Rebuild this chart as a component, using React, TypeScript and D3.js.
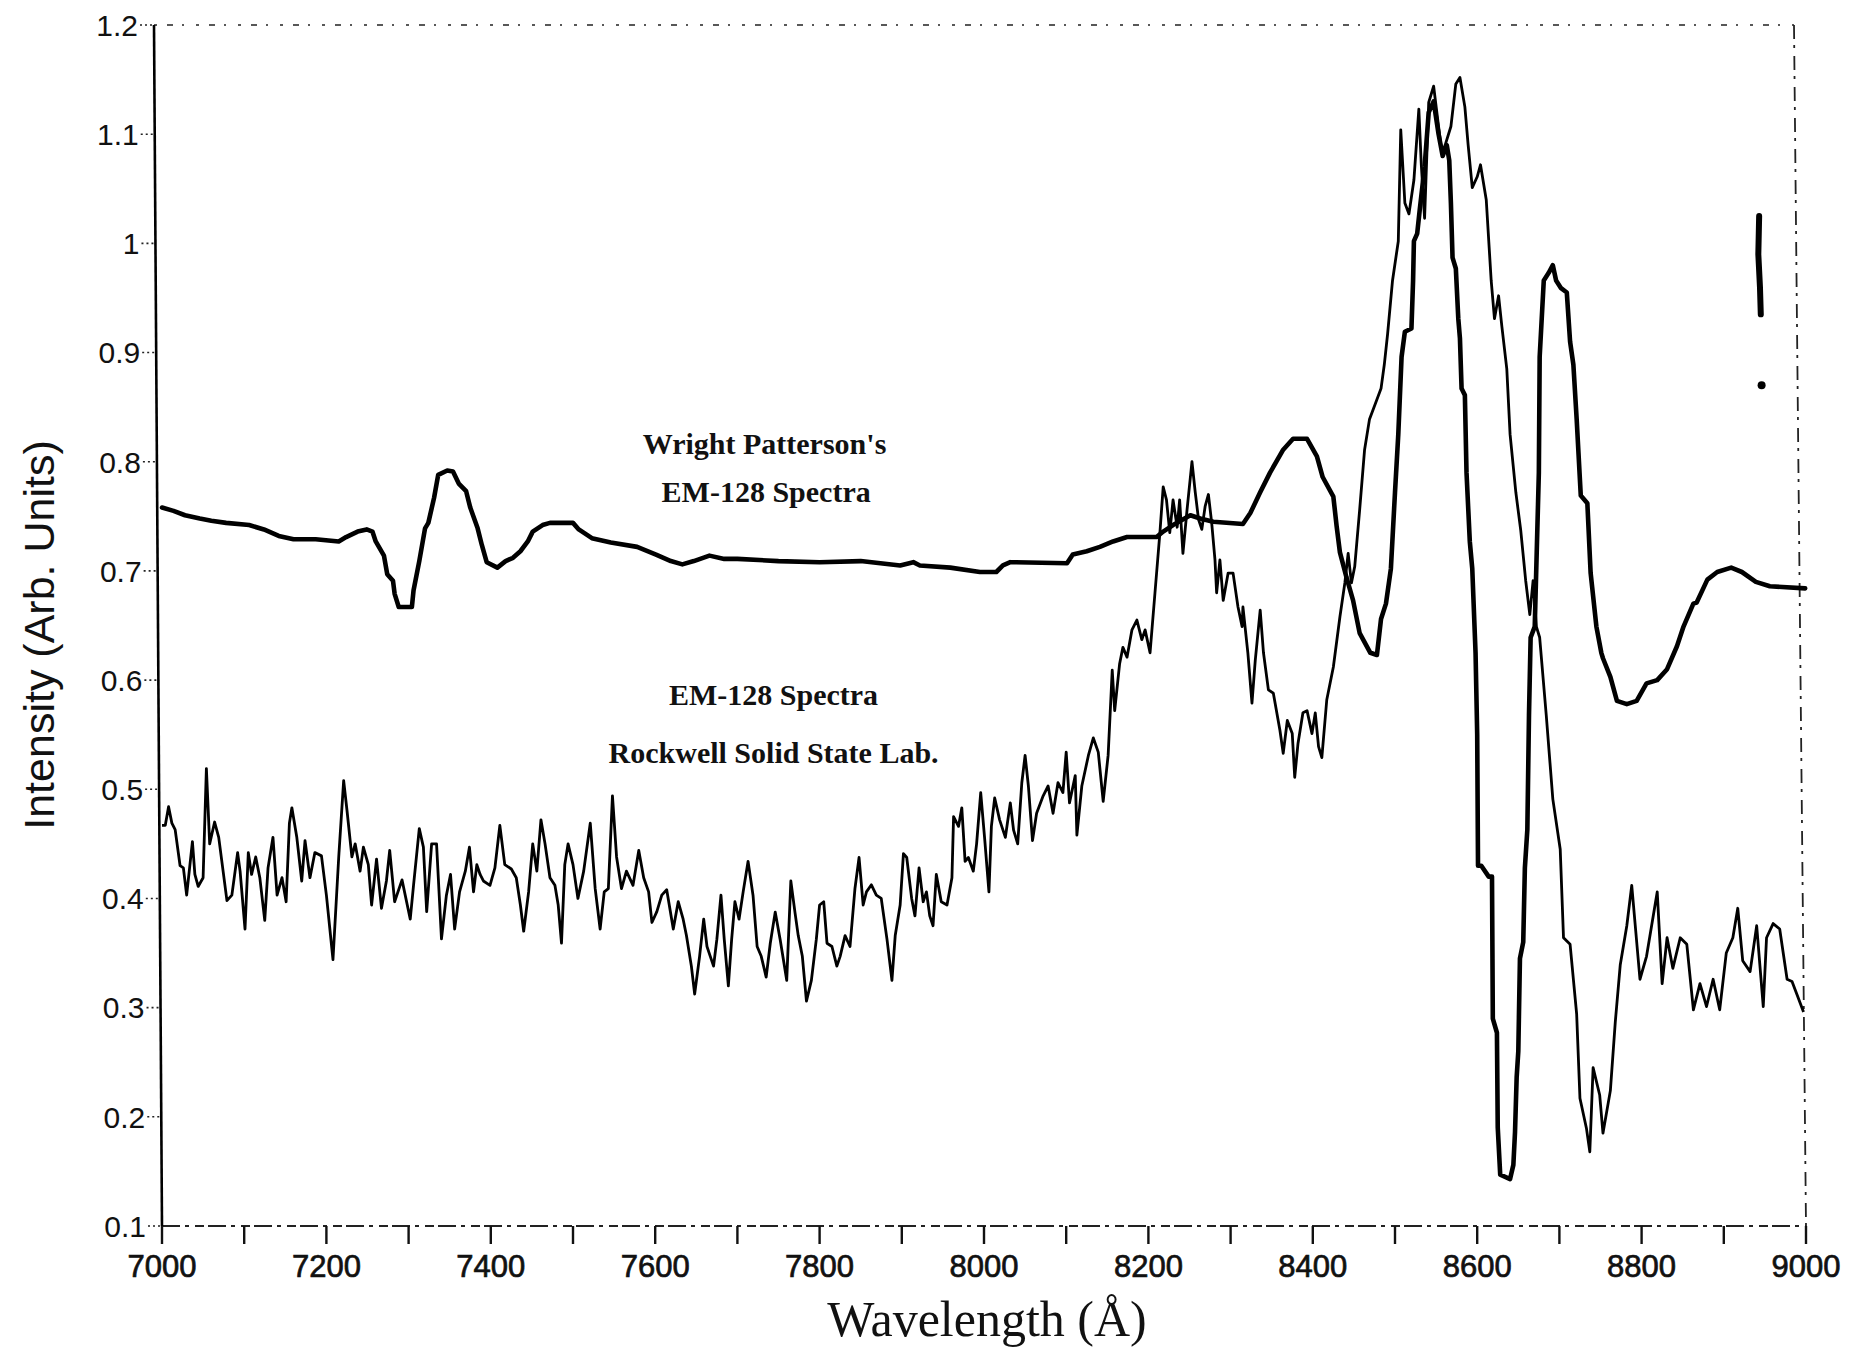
import React from "react";
import * as d3 from "d3";

// ---------- data ----------
const xTickValues = [7000, 7100, 7200, 7300, 7400, 7500, 7600, 7700, 7800, 7900, 8000, 8100, 8200, 8300, 8400, 8500, 8600, 8700, 8800, 8900, 9000];
const xTickLabels = [7000, 7200, 7400, 7600, 7800, 8000, 8200, 8400, 8600, 8800, 9000];
const yTickValues = [0.1, 0.2, 0.3, 0.4, 0.5, 0.6, 0.7, 0.8, 0.9, 1.0, 1.1, 1.2];

// Wright Patterson's EM-128 spectrum (thick line): [wavelength, intensity]
const wrightPatterson: [number, number][] = [
  [7000, 0.758], [7014, 0.755], [7028, 0.751], [7046, 0.748], [7060, 0.746], [7078, 0.744], [7106, 0.742],
  [7124, 0.738], [7142, 0.732], [7160, 0.729], [7187, 0.729], [7215, 0.727], [7224, 0.731], [7238, 0.736],
  [7249, 0.738], [7256, 0.736], [7260, 0.727], [7270, 0.714], [7274, 0.697], [7281, 0.691], [7283, 0.679],
  [7288, 0.667], [7304, 0.667], [7306, 0.682], [7313, 0.709], [7320, 0.739], [7324, 0.744], [7331, 0.767],
  [7336, 0.788], [7347, 0.792], [7354, 0.791], [7361, 0.78], [7370, 0.773], [7375, 0.758], [7384, 0.739],
  [7389, 0.724], [7395, 0.708], [7408, 0.703], [7418, 0.709], [7427, 0.712], [7436, 0.718], [7445, 0.727],
  [7451, 0.736], [7463, 0.742], [7472, 0.744], [7500, 0.744], [7507, 0.738], [7523, 0.73], [7546, 0.726],
  [7578, 0.722], [7601, 0.715], [7619, 0.709], [7633, 0.706], [7647, 0.709], [7666, 0.714], [7684, 0.711],
  [7700, 0.711], [7750, 0.709], [7800, 0.708], [7850, 0.709], [7898, 0.705], [7914, 0.708], [7922, 0.705],
  [7959, 0.703], [7995, 0.699], [8015, 0.699], [8023, 0.705], [8032, 0.708], [8101, 0.707], [8108, 0.715],
  [8125, 0.718], [8141, 0.722], [8157, 0.727], [8174, 0.731], [8210, 0.731], [8218, 0.736], [8230, 0.742],
  [8251, 0.751], [8263, 0.748], [8279, 0.745], [8315, 0.743], [8324, 0.753], [8336, 0.772], [8348, 0.79],
  [8364, 0.811], [8376, 0.821], [8393, 0.821], [8405, 0.805], [8412, 0.786], [8425, 0.768], [8429, 0.741],
  [8433, 0.717], [8441, 0.694], [8449, 0.673], [8457, 0.643], [8470, 0.625], [8478, 0.623], [8483, 0.656],
  [8489, 0.67], [8495, 0.702], [8500, 0.772], [8504, 0.825], [8508, 0.896], [8512, 0.919], [8520, 0.922],
  [8522, 0.966], [8523, 1.002], [8527, 1.009], [8530, 1.03], [8536, 1.07], [8541, 1.12], [8547, 1.13],
  [8553, 1.1], [8558, 1.08], [8563, 1.09], [8566, 1.076], [8568, 1.037], [8570, 0.987], [8574, 0.977],
  [8577, 0.931], [8579, 0.913], [8581, 0.867], [8585, 0.861], [8587, 0.79], [8591, 0.727], [8594, 0.702],
  [8598, 0.625], [8600, 0.55], [8601, 0.43], [8605, 0.43], [8614, 0.42], [8618, 0.42], [8619, 0.29],
  [8624, 0.277], [8625, 0.19], [8628, 0.147], [8640, 0.143], [8644, 0.156], [8646, 0.186], [8648, 0.236],
  [8650, 0.26], [8652, 0.345], [8656, 0.36], [8658, 0.428], [8661, 0.463], [8663, 0.568], [8665, 0.639],
  [8670, 0.649], [8675, 0.79], [8676, 0.896], [8681, 0.966], [8687, 0.973], [8692, 0.98], [8696, 0.966],
  [8702, 0.959], [8709, 0.955], [8713, 0.91], [8717, 0.889], [8721, 0.839], [8726, 0.769], [8734, 0.762],
  [8738, 0.698], [8745, 0.649], [8751, 0.625], [8753, 0.62], [8762, 0.603], [8770, 0.581], [8782, 0.578],
  [8794, 0.581], [8806, 0.597], [8819, 0.6], [8831, 0.61], [8843, 0.631], [8851, 0.649], [8863, 0.67],
  [8867, 0.671], [8880, 0.692], [8892, 0.699], [8909, 0.703], [8922, 0.699], [8939, 0.69], [8956, 0.686],
  [8999, 0.684],
];

// Rockwell Solid State Lab. EM-128 spectrum (thin noisy line)
const rockwell: [number, number][] = [
  [7000, 0.467], [7004, 0.467], [7008, 0.484], [7012, 0.469], [7016, 0.463], [7022, 0.43], [7026, 0.428],
  [7030, 0.403], [7034, 0.431], [7037, 0.452], [7040, 0.422], [7044, 0.411], [7050, 0.419], [7054, 0.519],
  [7058, 0.45], [7064, 0.47], [7069, 0.456], [7079, 0.398], [7085, 0.403], [7092, 0.442], [7095, 0.425],
  [7101, 0.372], [7105, 0.442], [7109, 0.422], [7114, 0.438], [7119, 0.419], [7125, 0.38], [7129, 0.428],
  [7135, 0.456], [7140, 0.403], [7146, 0.419], [7151, 0.397], [7155, 0.469], [7158, 0.483], [7164, 0.456],
  [7170, 0.416], [7174, 0.453], [7180, 0.419], [7186, 0.442], [7194, 0.439], [7200, 0.403], [7208, 0.344],
  [7215, 0.438], [7221, 0.508], [7225, 0.481], [7231, 0.438], [7235, 0.45], [7241, 0.425], [7245, 0.447],
  [7251, 0.431], [7255, 0.394], [7261, 0.436], [7267, 0.391], [7273, 0.416], [7277, 0.444], [7283, 0.397],
  [7292, 0.417], [7302, 0.381], [7306, 0.412], [7313, 0.464], [7318, 0.447], [7322, 0.388], [7328, 0.45],
  [7334, 0.45], [7340, 0.363], [7346, 0.403], [7351, 0.422], [7356, 0.372], [7362, 0.406], [7369, 0.425],
  [7374, 0.447], [7379, 0.406], [7383, 0.431], [7387, 0.422], [7391, 0.416], [7399, 0.412], [7405, 0.428],
  [7411, 0.467], [7417, 0.431], [7425, 0.427], [7431, 0.419], [7436, 0.394], [7440, 0.37], [7446, 0.406],
  [7451, 0.45], [7456, 0.425], [7461, 0.472], [7466, 0.45], [7472, 0.419], [7478, 0.412], [7482, 0.394],
  [7486, 0.359], [7490, 0.431], [7494, 0.45], [7500, 0.431], [7506, 0.4], [7513, 0.425], [7521, 0.469],
  [7527, 0.409], [7533, 0.372], [7538, 0.406], [7543, 0.409], [7548, 0.494], [7553, 0.438], [7559, 0.409],
  [7565, 0.425], [7573, 0.412], [7580, 0.444], [7586, 0.419], [7592, 0.406], [7596, 0.378], [7602, 0.388],
  [7608, 0.403], [7614, 0.408], [7622, 0.372], [7628, 0.397], [7634, 0.381], [7638, 0.366], [7644, 0.338],
  [7648, 0.3125], [7654, 0.347], [7659, 0.381], [7663, 0.356], [7667, 0.347], [7671, 0.338], [7675, 0.3625],
  [7680, 0.403], [7684, 0.3625], [7689, 0.32], [7693, 0.3625], [7697, 0.397], [7702, 0.381], [7707, 0.406],
  [7713, 0.434], [7719, 0.403], [7724, 0.356], [7729, 0.347], [7735, 0.328], [7740, 0.359], [7746, 0.3875],
  [7752, 0.3625], [7760, 0.325], [7765, 0.416], [7770, 0.3875], [7774, 0.366], [7779, 0.347], [7784, 0.306],
  [7790, 0.325], [7796, 0.3625], [7800, 0.394], [7805, 0.397], [7809, 0.359], [7815, 0.356], [7821, 0.338],
  [7825, 0.347], [7831, 0.366], [7837, 0.356], [7843, 0.409], [7848, 0.4375], [7853, 0.394], [7857, 0.406],
  [7863, 0.4125], [7869, 0.403], [7875, 0.4], [7882, 0.3625], [7888, 0.325], [7892, 0.366], [7898, 0.394],
  [7902, 0.441], [7906, 0.4375], [7912, 0.4], [7916, 0.384], [7921, 0.428], [7926, 0.397], [7930, 0.406],
  [7934, 0.384], [7938, 0.375], [7942, 0.422], [7948, 0.397], [7955, 0.394], [7961, 0.419], [7963, 0.475],
  [7969, 0.466], [7973, 0.483], [7977, 0.434], [7981, 0.4375], [7987, 0.425], [7991, 0.45], [7996, 0.497],
  [8001, 0.453], [8006, 0.406], [8009, 0.466], [8013, 0.492], [8019, 0.472], [8026, 0.456], [8032, 0.4875],
  [8036, 0.4625], [8041, 0.45], [8046, 0.506], [8050, 0.531], [8054, 0.503], [8059, 0.453], [8064, 0.478],
  [8072, 0.494], [8078, 0.503], [8084, 0.478], [8090, 0.506], [8096, 0.497], [8100, 0.534], [8104, 0.4875],
  [8111, 0.5125], [8113, 0.458], [8119, 0.503], [8127, 0.531], [8133, 0.547], [8139, 0.534], [8145, 0.489],
  [8151, 0.531], [8156, 0.609], [8159, 0.572], [8165, 0.615], [8169, 0.63], [8174, 0.621], [8180, 0.646],
  [8186, 0.655], [8192, 0.637], [8196, 0.646], [8202, 0.625], [8208, 0.68], [8214, 0.735], [8218, 0.777],
  [8222, 0.765], [8226, 0.735], [8230, 0.765], [8235, 0.74], [8238, 0.765], [8242, 0.716], [8247, 0.756],
  [8253, 0.8], [8257, 0.772], [8261, 0.747], [8265, 0.738], [8269, 0.759], [8273, 0.77], [8277, 0.744],
  [8281, 0.71], [8283, 0.68], [8287, 0.71], [8291, 0.673], [8297, 0.698], [8303, 0.698], [8309, 0.667],
  [8314, 0.649], [8315, 0.667], [8321, 0.625], [8326, 0.579], [8330, 0.618], [8336, 0.664], [8340, 0.625],
  [8346, 0.591], [8352, 0.588], [8360, 0.554], [8364, 0.533], [8369, 0.563], [8375, 0.551], [8378, 0.511],
  [8382, 0.542], [8388, 0.57], [8393, 0.572], [8399, 0.551], [8403, 0.57], [8407, 0.539], [8411, 0.529],
  [8417, 0.582], [8425, 0.612], [8433, 0.658], [8439, 0.689], [8443, 0.716], [8447, 0.689], [8451, 0.704],
  [8457, 0.756], [8463, 0.811], [8469, 0.839], [8478, 0.857], [8483, 0.867], [8487, 0.889], [8491, 0.917],
  [8497, 0.966], [8504, 1.002], [8507, 1.104], [8512, 1.037], [8517, 1.027], [8523, 1.058], [8529, 1.123],
  [8532, 1.072], [8536, 1.023], [8541, 1.129], [8547, 1.144], [8553, 1.107], [8557, 1.083], [8561, 1.09],
  [8568, 1.107], [8574, 1.146], [8579, 1.152], [8585, 1.125], [8589, 1.09], [8594, 1.051], [8600, 1.061],
  [8604, 1.072], [8611, 1.04], [8617, 0.966], [8621, 0.931], [8626, 0.952], [8630, 0.924], [8636, 0.885],
  [8640, 0.825], [8647, 0.772], [8653, 0.737], [8659, 0.691], [8664, 0.66], [8668, 0.691], [8672, 0.649],
  [8676, 0.639], [8684, 0.568], [8692, 0.491], [8701, 0.445], [8705, 0.364], [8713, 0.358], [8721, 0.294],
  [8725, 0.217], [8733, 0.189], [8737, 0.168], [8741, 0.245], [8749, 0.22], [8753, 0.185], [8762, 0.224],
  [8768, 0.287], [8774, 0.339], [8782, 0.375], [8788, 0.412], [8798, 0.326], [8806, 0.347], [8819, 0.406],
  [8825, 0.322], [8831, 0.364], [8838, 0.336], [8847, 0.364], [8855, 0.358], [8863, 0.298], [8871, 0.322],
  [8879, 0.301], [8887, 0.326], [8895, 0.298], [8903, 0.35], [8911, 0.364], [8917, 0.391], [8923, 0.343],
  [8932, 0.333], [8940, 0.375], [8948, 0.301], [8952, 0.364], [8960, 0.377], [8968, 0.372], [8977, 0.326],
  [8983, 0.324], [8989, 0.312], [8997, 0.296],
];

// small scan smudge near the upper right of the plot
const smudge: [number, number][] = [[8943, 1.025], [8942, 0.99], [8944, 0.96], [8945, 0.935]];
const smudgeDot: [number, number][] = [[8946, 0.87]];

const annotations = [
  { text: "Wright Patterson's", x: 7733, y: 0.807 },
  { text: "EM-128 Spectra", x: 7735, y: 0.763 },
  { text: "EM-128 Spectra", x: 7744, y: 0.577 },
  { text: "Rockwell Solid State Lab.", x: 7744, y: 0.524 },
];

// ---------- chart ----------
const W = 1851;
const H = 1352;

export default function App() {
  const x = d3.scaleLinear().domain([7000, 9000]).range([162, 1806]);
  const y = d3.scaleLinear().domain([0.1, 1.2]).range([1226, 25]);

  const line = d3
    .line<[number, number]>()
    .x((d) => x(d[0]))
    .y((d) => y(d[1]));

  const x0 = x(7000);
  const x1 = x(9000);
  const yTop = y(1.2);
  const yBot = y(0.1);

  const tickFont = "'Liberation Sans', Arial, Helvetica, sans-serif";
  const serif = "'Liberation Serif', 'Times New Roman', Times, serif";

  return (
    <svg
      width={W}
      height={H}
      viewBox={`0 0 ${W} ${H}`}
      style={{ position: "absolute", left: 0, top: 0, background: "#fff" }}
    >
      <rect x={0} y={0} width={W} height={H} fill="#fff" />

      {/* frame: top dotted, right dashed, bottom dashed */}
      <line x1={x0 - 8} y1={yTop} x2={x1 - 12} y2={yTop} stroke="#222" strokeWidth={1.6} strokeDasharray="3 10 6 9 2 12" />
      <line x1={x1 - 12} y1={yTop} x2={x1} y2={yBot} stroke="#222" strokeWidth={1.8} strokeDasharray="14 6 3 8" />
      <line x1={x0} y1={yBot} x2={x1} y2={yBot} stroke="#222" strokeWidth={2} strokeDasharray="18 5 4 6 9 4" />
      {/* left axis (solid, scan slightly tilted) */}
      <line x1={x0 - 8} y1={yTop} x2={x0} y2={yBot} stroke="#000" strokeWidth={2.6} />

      {/* y ticks */}
      {yTickValues.map((v) => {
        const yy = y(v);
        const ax = x0 - 8 + (8 * (yy - yTop)) / (yBot - yTop);
        return (
          <g key={`yt${v}`}>
            <line x1={ax - 14} y1={yy} x2={ax} y2={yy} stroke="#222" strokeWidth={1.6} strokeDasharray="2 3" />
            <text
              x={ax - 16}
              y={yy}
              dy="0.36em"
              textAnchor="end"
              fontFamily={tickFont}
              fontSize={30}
              fill="#111"
            >
              {d3.format("~g")(v)}
            </text>
          </g>
        );
      })}

      {/* x ticks */}
      {xTickValues.map((v) => (
        <line key={`xt${v}`} x1={x(v)} y1={yBot} x2={x(v)} y2={yBot + 18} stroke="#111" strokeWidth={2.4} />
      ))}
      {xTickLabels.map((v) => (
        <text
          key={`xl${v}`}
          x={x(v)}
          y={1277}
          textAnchor="middle"
          fontFamily={tickFont}
          fontSize={31}
          fill="#111"
          stroke="#111"
          strokeWidth={0.7}
        >
          {v}
        </text>
      ))}

      {/* axis titles */}
      <text
        x={x((7000 + 9000) / 2) + 3}
        y={1336}
        textAnchor="middle"
        fontFamily={serif}
        fontSize={50}
        fill="#111"
      >
        Wavelength (Å)
      </text>
      <text
        transform={`translate(54, ${635}) rotate(-90)`}
        textAnchor="middle"
        fontFamily={tickFont}
        fontSize={43}
        fill="#111"
      >
        Intensity (Arb. Units)
      </text>

      {/* series */}
      <path d={line(rockwell) || ""} fill="none" stroke="#000" strokeWidth={2.8} strokeLinejoin="round" />
      <path d={line(wrightPatterson) || ""} fill="none" stroke="#000" strokeWidth={4.6} strokeLinejoin="round" strokeLinecap="round" />
      <path d={line(smudge) || ""} fill="none" stroke="#000" strokeWidth={6} strokeLinecap="round" />
      {smudgeDot.map((d, i) => (
        <circle key={`sd${i}`} cx={x(d[0])} cy={y(d[1])} r={4} fill="#000" />
      ))}

      {/* annotations */}
      {annotations.map((a, i) => (
        <text
          key={`an${i}`}
          x={x(a.x)}
          y={y(a.y)}
          textAnchor="middle"
          fontFamily={serif}
          fontWeight="bold"
          fontSize={30}
          fill="#111"
        >
          {a.text}
        </text>
      ))}
    </svg>
  );
}
